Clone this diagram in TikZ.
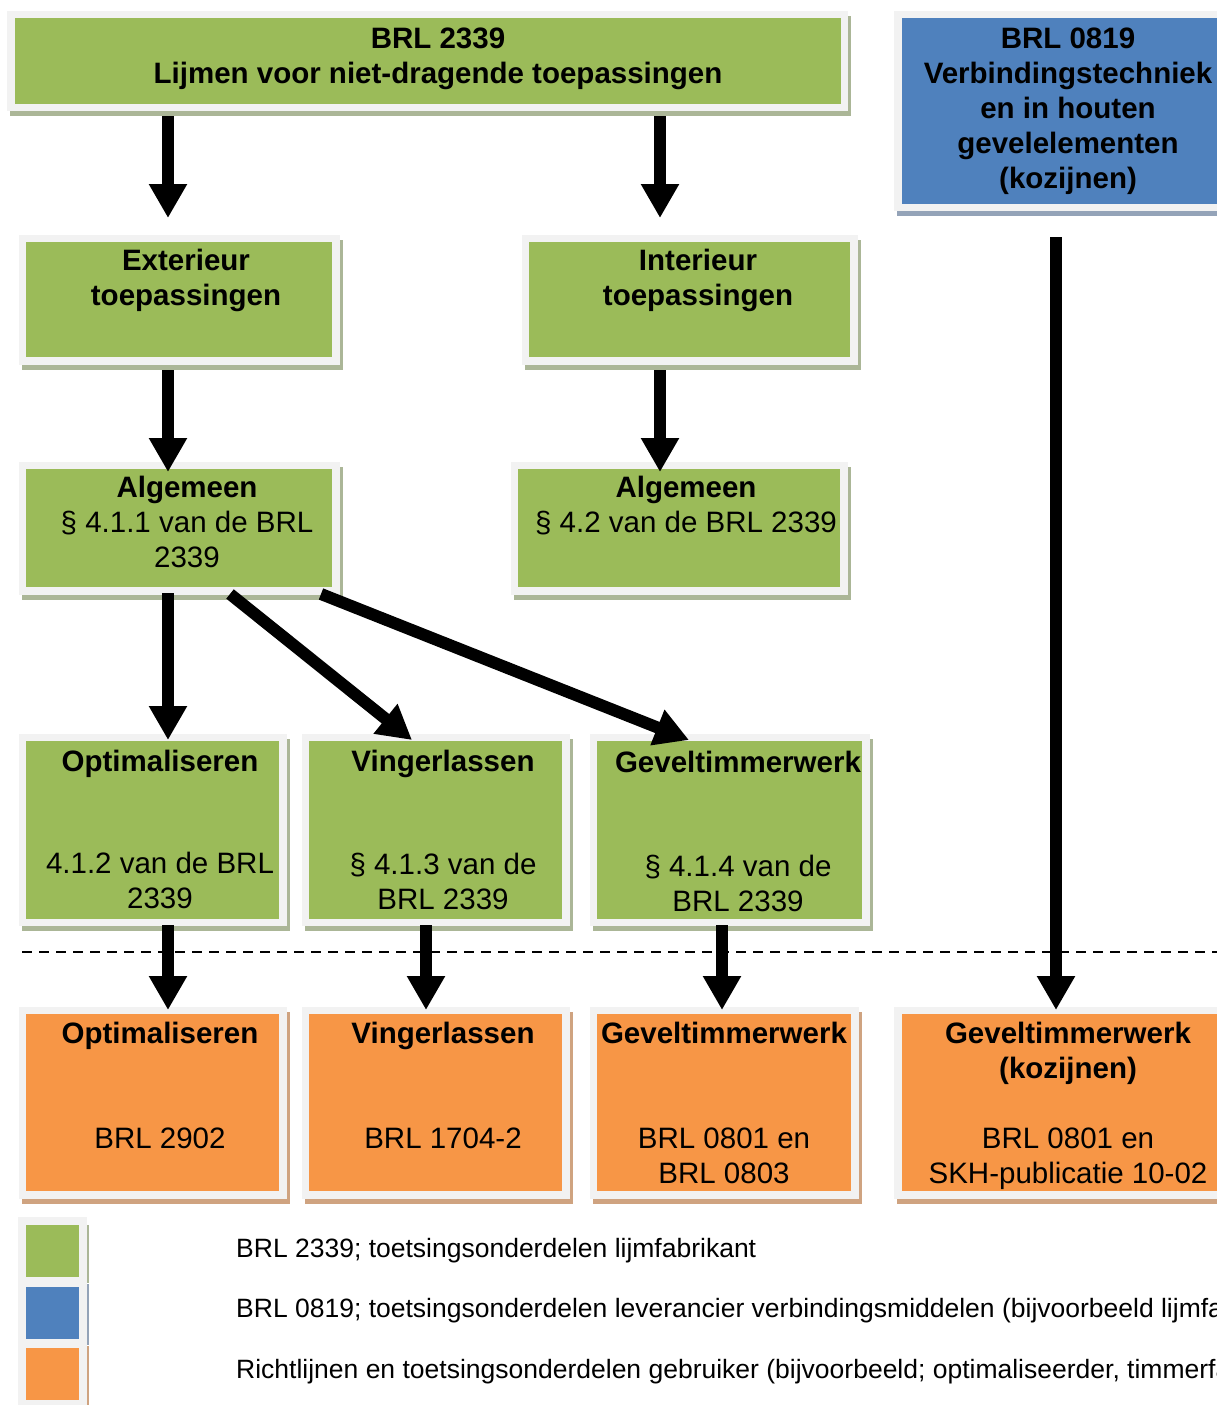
\documentclass[tikz,border=0pt]{standalone}
\usepackage{fontspec}
\setmainfont{Liberation Sans}
\usetikzlibrary{arrows.meta,fit}
\definecolor{gfill}{HTML}{9BBB59}
\definecolor{bfill}{HTML}{4F81BD}
\definecolor{ofill}{HTML}{F79646}
\definecolor{framegray}{HTML}{F2F2F2}
\definecolor{gshad}{HTML}{ABB697}
\definecolor{bshad}{HTML}{94A3B8}
\definecolor{oshad}{HTML}{CFA380}
\newcommand\mkbox[7]{%
  \fill[#7] (#2+3,#3+5) rectangle (#4+3,#5+5);
  \fill[framegray] (#2,#3) rectangle (#4,#5);
  \node[fill=#6, inner sep=0, fit={(#2+7.5,#3+7.5) (#4-7.5,#5-7.5)}] (#1) {};
}
\tikzset{
  txt/.style={anchor=north, inner sep=0, align=center, font=\fontsize{29.5}{35}\selectfont},
  btxt/.style={txt, font=\fontsize{29.5}{35}\selectfont\bfseries},
  leg/.style={anchor=base west, inner sep=0, font=\fontsize{26.5}{30}\selectfont},
  arr/.style={line width=12pt, -{Triangle[width=36pt,length=34pt]}},
  sep/.style={line width=2pt, dash pattern=on 10pt off 7pt}
}
\newcommand\st{\rule{0pt}{30pt}}
\begin{document}
\begin{tikzpicture}[x=1pt,y=-1pt]
\useasboundingbox (0,0) rectangle (1217,1405);
\clip (0,0) rectangle (1217,1405);
% boxes
\mkbox{top}{7}{11}{848}{111}{gfill}{gshad}
\mkbox{b0819}{894}{11}{1240}{211}{bfill}{bshad}
\mkbox{ext}{18.5}{234.5}{339.5}{364.5}{gfill}{gshad}
\mkbox{int}{521.5}{234.5}{857.5}{364.5}{gfill}{gshad}
\mkbox{algL}{18.5}{461.5}{339.5}{594.5}{gfill}{gshad}
\mkbox{algR}{510.5}{461.5}{847.5}{594.5}{gfill}{gshad}
\mkbox{optG}{18.5}{733.5}{286.5}{926}{gfill}{gshad}
\mkbox{vinG}{301.5}{733.5}{569.5}{926}{gfill}{gshad}
\mkbox{gevG}{589.5}{733.5}{869.5}{926}{gfill}{gshad}
\mkbox{optO}{18.5}{1006.5}{286.5}{1198.5}{ofill}{oshad}
\mkbox{vinO}{301.5}{1006.5}{569.5}{1198.5}{ofill}{oshad}
\mkbox{gevO}{589.5}{1006.5}{858.5}{1198.5}{ofill}{oshad}
\mkbox{kozO}{894}{1006.5}{1240}{1198.5}{ofill}{oshad}
% legend
\fill[framegray] (18,1217) rectangle (87,1410);
\fill[gshad] (87,1225) rectangle (89,1283);
\fill[bshad] (87,1284) rectangle (89,1345);
\fill[oshad] (87,1346) rectangle (89,1410);
\node[fill=gfill, inner sep=0, fit={(26,1225) (79,1277)}] (lg) {};
\node[fill=bfill, inner sep=0, fit={(26,1287) (79,1339)}] (lb) {};
\node[fill=ofill, inner sep=0, fit={(26,1348) (79,1400)}] (lo) {};
% dashed separator
\coordinate (dl) at (22,952);
\coordinate (dr) at (1217,952);
\draw[sep] (dl) -- (dr);
% arrow end points
\coordinate (a1s) at (168,116);  \coordinate (a1e) at (168,218);
\coordinate (a2s) at (660,116);  \coordinate (a2e) at (660,218);
\coordinate (a3s) at (1056,237); \coordinate (a3e) at (1056,1010);
\coordinate (a4s) at (168,370);  \coordinate (a4e) at (168,472);
\coordinate (a5s) at (660,370);  \coordinate (a5e) at (660,472);
\coordinate (a6s) at (168,593);  \coordinate (a6e) at (168,740);
\coordinate (a7s) at (230,594);  \coordinate (a7e) at (412,740);
\coordinate (a8s) at (321,594);  \coordinate (a8e) at (689,740);
\coordinate (a9s) at (168,925);  \coordinate (a9e) at (168,1010);
\coordinate (a10s) at (426,925); \coordinate (a10e) at (426,1010);
\coordinate (a11s) at (722,925); \coordinate (a11e) at (722,1010);
\foreach \i in {1,...,11}{\draw[arr] (a\i s) -- (a\i e);}
% texts
\node[btxt] (tTop) at (438,38-19.25) {\st BRL 2339\\Lijmen voor niet-dragende toepassingen};
\node[btxt] (t0819) at (1068,38-19.25) {\st BRL 0819\\Verbindingstechniek\\en in houten\\gevelelementen\\(kozijnen)};
\node[btxt] (tExt) at (186,260-19.25) {\st Exterieur\\toepassingen};
\node[btxt] (tInt) at (698,260-19.25) {\st Interieur\\toepassingen};
\node[txt] (tAlgL) at (187,487-19.25) {\st\textbf{Algemeen}\\§ 4.1.1 van de BRL\\2339};
\node[txt] (tAlgR) at (686,487-19.25) {\st\textbf{Algemeen}\\§ 4.2 van de BRL 2339};
\node[txt] (tOptG) at (160,761-19.25) {\st\textbf{Optimaliseren}\\[67pt]4.1.2 van de BRL\\2339};
\node[txt] (tVinG) at (443,761-19.25) {\st\textbf{Vingerlassen}\\[68pt]§ 4.1.3 van de\\BRL 2339};
\node[txt] (tGevG) at (738,762-19.25) {\st\textbf{Geveltimmerwerk}\\[69pt]§ 4.1.4 van de\\BRL 2339};
\node[txt] (tOptO) at (160,1033-19.25) {\st\textbf{Optimaliseren}\\[70pt]BRL 2902};
\node[txt] (tVinO) at (443,1033-19.25) {\st\textbf{Vingerlassen}\\[70pt]BRL 1704-2};
\node[txt] (tGevO) at (724,1033-19.25) {\st\textbf{Geveltimmerwerk}\\[70pt]BRL 0801 en\\BRL 0803};
\node[txt] (tKoz) at (1068,1033-19.25) {\st\textbf{Geveltimmerwerk}\\\textbf{(kozijnen)}\\[35pt]BRL 0801 en\\SKH-publicatie 10-02};
% legend texts
\node[leg] (l1) at (236,1257) {BRL 2339; toetsingsonderdelen lijmfabrikant};
\node[leg] (l2) at (236,1317) {BRL 0819; toetsingsonderdelen leverancier verbindingsmiddelen (bijvoorbeeld lijmfabrikant)};
\node[leg] (l3) at (236,1378) {Richtlijnen en toetsingsonderdelen gebruiker (bijvoorbeeld; optimaliseerder, timmerfabrikant)};
\end{tikzpicture}
\end{document}
